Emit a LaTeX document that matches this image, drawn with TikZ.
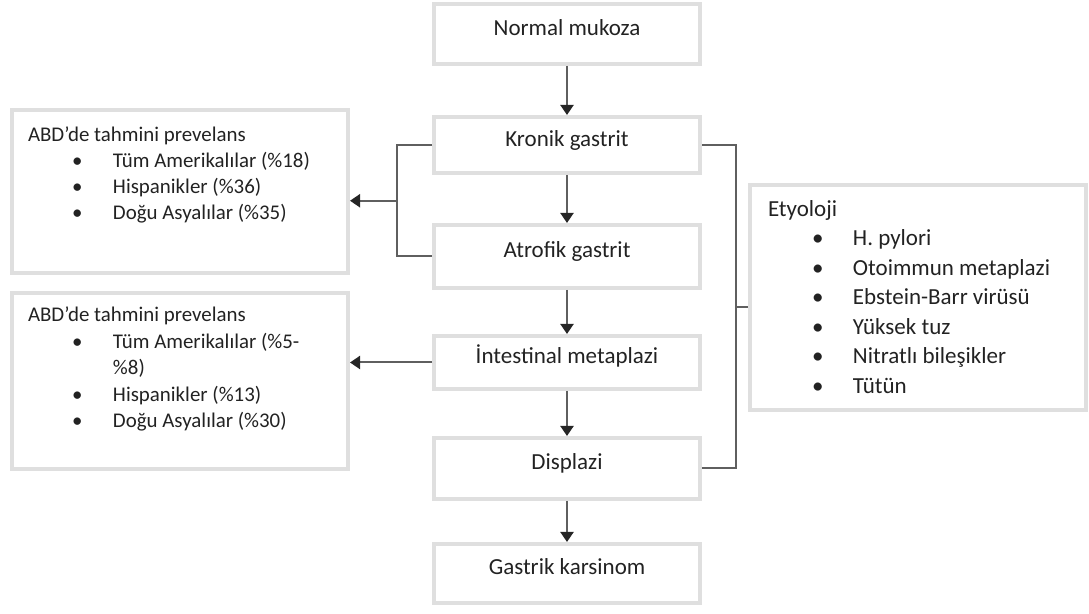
\documentclass[tikz,border=0pt]{standalone}
\usepackage{fontspec}
\setmainfont{Carlito}
\usetikzlibrary{arrows.meta}
\definecolor{boxgray}{HTML}{DFDFDF}
\definecolor{linegray}{HTML}{5F5F5F}
\definecolor{textdark}{HTML}{222222}
\newcommand{\listitem}[1]{\\\hspace*{22pt}\makebox[20.5pt][l]{\textbullet}#1}
\tikzset{
    stage/.style={draw=boxgray, line width=2pt, minimum width=133pt, text height=7.6pt, text depth=6.2pt, text=textdark, font=\fontsize{11.5pt}{14pt}\selectfont},
    listbox/.style={draw=boxgray, line width=2pt, inner xsep=8pt, inner ysep=5pt, text=textdark},
    connector/.style={draw=linegray, line width=1pt},
    >={Triangle[width=6.5pt,length=5pt,fill=black!85,color=black!85]}
}
\begin{document}
\begin{tikzpicture}[x=0.5pt, y=-0.5pt]
    \useasboundingbox (0,0) rectangle (1089,614);
    % middle column
    \node at (567,34) [stage, minimum height=30pt] (normal mukoza) {Normal mukoza};
    \node at (567,145) [stage, minimum height=28pt] (kronik gastrit) {Kronik gastrit};
    \node at (567,256.5) [stage, minimum height=31.5pt] (atrofik gastrit) {Atrofik gastrit};
    \node at (567,362.5) [stage, minimum height=26.5pt] (intestinal metaplazi) {İntestinal metaplazi};
    \node at (567,468.5) [stage, minimum height=30.5pt] (displazi) {Displazi};
    \node at (567,573.5) [stage, minimum height=29.5pt] (gastrik karsinom) {Gastrik karsinom};
    % side boxes
    \node at (180,191.5) [listbox, font=\fontsize{10.45pt}{13pt}\selectfont] (prevalence one) {\parbox[t][71.5pt][t]{152pt}{\raggedright\rule{0pt}{11pt}ABD’de tahmini prevelans
        \listitem{Tüm Amerikalılar (\%18)}
        \listitem{Hispanikler (\%36)}
        \listitem{Doğu Asyalılar (\%35)}}};
    \node at (180,381) [listbox, font=\fontsize{10.45pt}{13.25pt}\selectfont] (prevalence two) {\parbox[t][78pt][t]{152pt}{\raggedright\rule{0pt}{9.5pt}ABD’de tahmini prevelans
        \listitem{Tüm Amerikalılar (\%5-}\\\hspace*{42.5pt}\%8)
        \listitem{Hispanikler (\%13)}
        \listitem{Doğu Asyalılar (\%30)}}};
    \node at (918,298) [listbox, inner xsep=9pt, font=\fontsize{11.5pt}{14.75pt}\selectfont] (etyoloji) {\parbox[t][102.5pt][t]{150pt}{\raggedright\rule{0pt}{10.5pt}Etyoloji
        \listitem{H. pylori}
        \listitem{Otoimmun metaplazi}
        \listitem{Ebstein-Barr virüsü}
        \listitem{Yüksek tuz}
        \listitem{Nitratlı bileşikler}
        \listitem{Tütün}}};
    \coordinate (left joint) at (397,200.75);
    \coordinate (right joint) at (736,306.75);
    \draw [connector, ->] (normal mukoza) -- (kronik gastrit);
    \draw [connector, ->] (kronik gastrit) -- (atrofik gastrit);
    \draw [connector, ->] (atrofik gastrit) -- (intestinal metaplazi);
    \draw [connector, ->] (intestinal metaplazi) -- (displazi);
    \draw [connector, ->] (displazi) -- (gastrik karsinom);
    % bracket on the left, arrow to the first prevalence box
    \draw [connector] (kronik gastrit.west) -| (left joint) |- (atrofik gastrit.west);
    \draw [connector, ->] (left joint) -- (prevalence one.east |- left joint);
    \draw [connector, ->] (intestinal metaplazi.west) -- (prevalence two.east |- intestinal metaplazi.west);
    % bracket on the right joins the etiology box
    \draw [connector] (kronik gastrit.east) -| (right joint) |- (displazi.east);
    \draw [connector] (right joint) -- (etyoloji.west |- right joint);
\end{tikzpicture}
\end{document}
